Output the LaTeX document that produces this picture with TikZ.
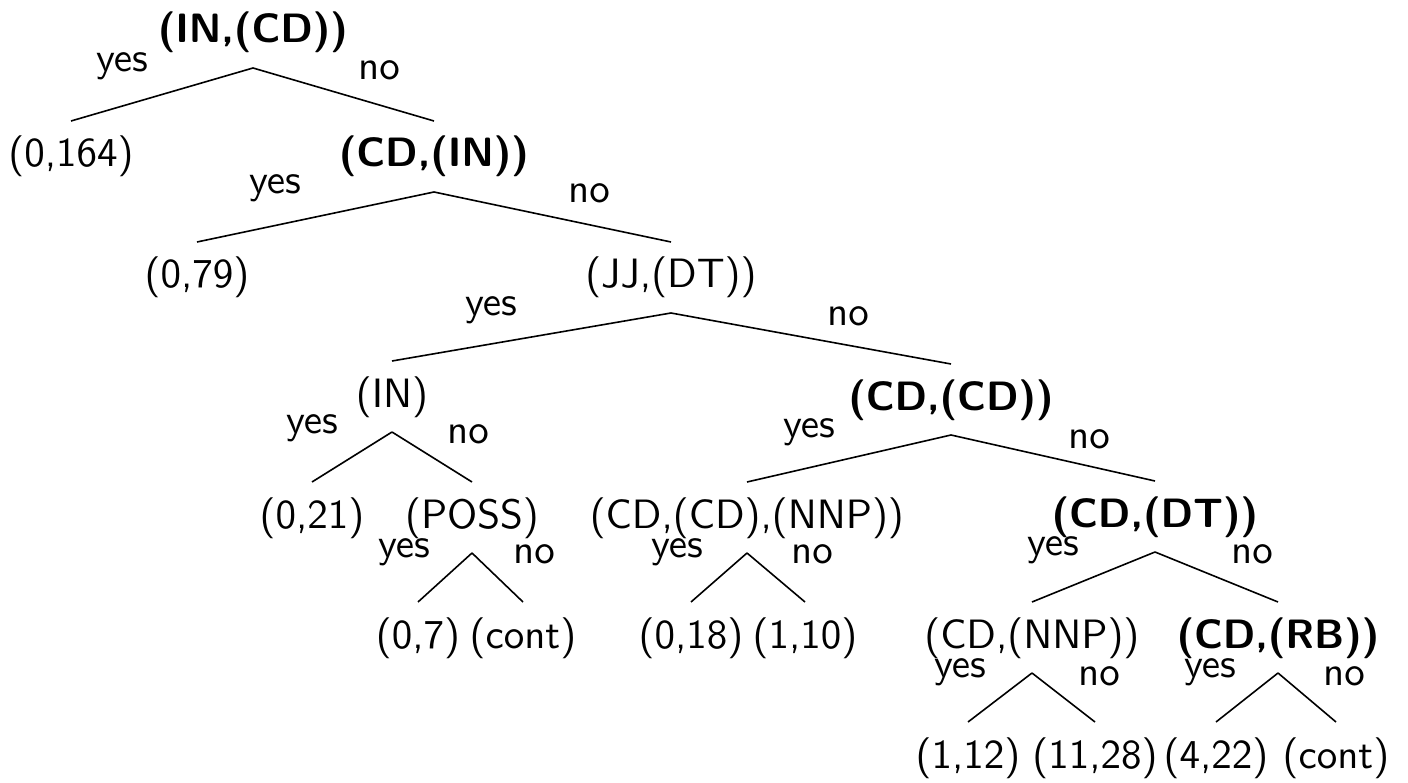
\documentclass[tikz,border=0pt]{standalone}
% sans serif faces at the 10pt design size, scaled up
\font\treerm=cmss10 at 41pt
\font\treebf=cmssbx10 at 41pt
\begin{document}
\begin{tikzpicture}[x=1pt,y=-1pt,
  tn/.style={anchor=base, inner sep=0pt, outer sep=0pt,
             text height=46pt, text depth=25pt, font=\treerm},
  tb/.style={tn, font=\treebf},
  lab/.style={anchor=base, inner sep=0pt, font=\treerm},
  br/.style={line width=1.6pt}]
\useasboundingbox (0,0) rectangle (1408,783);

% decision nodes and leaves
\node[tb] (root) at (253,43)  {(IN,(CD))};
\node[tn] (a1)   at (71,167)  {(0,164)};
\node[tb] (n1)   at (434,167) {(CD,(IN))};
\node[tn] (a2)   at (197,288) {(0,79)};
\node[tn] (n2)   at (671,288) {(JJ,(DT))};
\node[tn] (n3)   at (392,407) {(IN)};
\node[tb] (n4)   at (951,410) {(CD,(CD))};
\node[tn] (a3)   at (312,528) {(0,21)};
\node[tn] (n5)   at (472,528) {(POSS)};
\node[tn] (n6)   at (747,528) {(CD,(CD),(NNP))};
\node[tb] (n7)   at (1155,527) {(CD,(DT))};
\node[tn] (a4)   at (418,648) {(0,7)};
\node[tn] (a5)   at (523,648) {(cont)};
\node[tn] (a6)   at (691,648) {(0,18)};
\node[tn] (a7)   at (805,648) {(1,10)};
\node[tn] (n8)   at (1032,648) {(CD,(NNP))};
\node[tb] (n9)   at (1278,648) {(CD,(RB))};
\node[tn] (a8)   at (968,768) {(1,12)};
\node[tn] (a9)   at (1095,768) {(11,28)};
\node[tn] (a10)  at (1216,768) {(4,22)};
\node[tn] (a11)  at (1336,768) {(cont)};

% branches
\draw[br] (root.south) -- (a1.north);
\draw[br] (root.south) -- (n1.north);
\draw[br] (n1.south) -- (a2.north);
\draw[br] (n1.south) -- (n2.north);
\draw[br] (n2.south) -- (n3.north);
\draw[br] (n2.south) -- (n4.north);
\draw[br] (n3.south) -- (a3.north);
\draw[br] (n3.south) -- (n5.north);
\draw[br] (n4.south) -- (n6.north);
\draw[br] (n4.south) -- (n7.north);
\draw[br] (n5.south) -- (a4.north);
\draw[br] (n5.south) -- (a5.north);
\draw[br] (n6.south) -- (a6.north);
\draw[br] (n6.south) -- (a7.north);
\draw[br] (n7.south) -- (n8.north);
\draw[br] (n7.south) -- (n9.north);
\draw[br] (n8.south) -- (a8.north);
\draw[br] (n8.south) -- (a9.north);
\draw[br] (n9.south) -- (a10.north);
\draw[br] (n9.south) -- (a11.north);

% branch labels
\node[lab] (y0) at (122,72)   {yes}; \node[lab] (o0) at (379,80)   {no};
\node[lab] (y1) at (275,194)  {yes}; \node[lab] (o1) at (589,203)  {no};
\node[lab] (y2) at (491,316)  {yes}; \node[lab] (o2) at (848,326)  {no};
\node[lab] (y3) at (312,433)  {yes}; \node[lab] (o3) at (468,443)  {no};
\node[lab] (y4) at (809,437)  {yes}; \node[lab] (o4) at (1089,448) {no};
\node[lab] (y5) at (404,557)  {yes}; \node[lab] (o5) at (534,563)  {no};
\node[lab] (y6) at (677,557)  {yes}; \node[lab] (o6) at (812,563)  {no};
\node[lab] (y7) at (1053,555) {yes}; \node[lab] (o7) at (1252,563) {no};
\node[lab] (y8) at (960,677)  {yes}; \node[lab] (o8) at (1099,685) {no};
\node[lab] (y9) at (1210,677) {yes}; \node[lab] (o9) at (1344,685) {no};
\end{tikzpicture}
\end{document}
